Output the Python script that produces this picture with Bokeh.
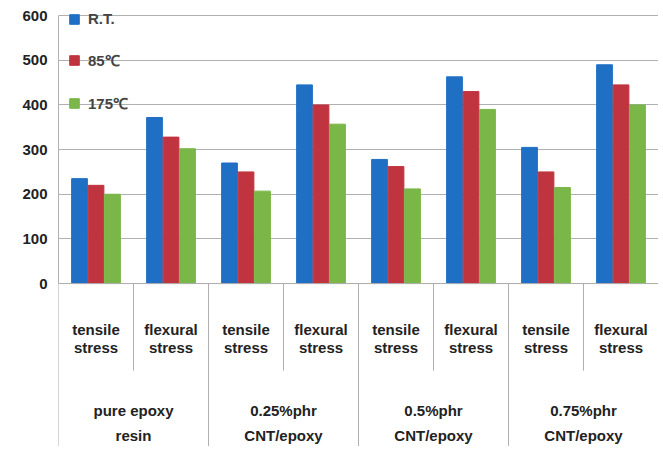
from bokeh.plotting import figure
from bokeh.models import ColumnDataSource, FixedTicker, Legend, LegendItem
from bokeh.core.properties import value
from bokeh.embed import file_html
from bokeh.resources import INLINE

stress = ["tensile\nstress", "flexural\nstress"] * 4
groups_top = ["pure epoxy", "0.25%phr", "0.5%phr", "0.75%phr"]
groups_bottom = ["resin", "CNT/epoxy", "CNT/epoxy", "CNT/epoxy"]
rt = [235, 372, 270, 445, 278, 463, 305, 490]
t85 = [220, 328, 250, 400, 262, 430, 250, 445]
t175 = [200, 302, 207, 357, 212, 390, 215, 400]
series = ["R.T.", "85\u2103", "175\u2103"]
colors = ["#1f6fc5", "#c0343f", "#7ab648"]
y_ticks = [0, 100, 200, 300, 400, 500, 600]

x = [i + 0.5 for i in range(len(stress))]
src = ColumnDataSource(dict(x=x, rt=rt, t85=t85, t175=t175))

p = figure(frame_width=600, frame_height=446, x_range=(0, 8), y_range=(-365, 634),
           output_backend="svg", toolbar_location=None, min_border_left=58,
           min_border_right=0, min_border_top=0, min_border_bottom=0,
           outline_line_color=None)
p.xaxis.visible = False
p.xgrid.grid_line_color = None
p.ygrid.ticker = FixedTicker(ticks=y_ticks)
p.ygrid.grid_line_color = "#b0b0b0"
p.yaxis.ticker = FixedTicker(ticks=y_ticks)
p.yaxis.bounds = (0, 600)
p.yaxis.axis_line_color = "#b0b0b0"
p.yaxis.major_tick_line_color = None
p.yaxis.minor_tick_line_color = None
p.yaxis.major_label_text_font = "Liberation Sans"
p.yaxis.major_label_text_font_style = "bold"
p.yaxis.major_label_text_font_size = "15px"
p.yaxis.major_label_text_color = "#222222"

w = 0.21
renderers = []
for col, off, c in zip(["rt", "t85", "t175"], [-0.22, 0, 0.22], colors):
    xs = [v + off for v in x]
    r = p.vbar(x=xs, top=src.data[col], width=w, bottom=0, color=c)
    renderers.append(r)

# table lines
p.segment(x0=[0], y0=[0], x1=[8], y1=[0], line_color="#b0b0b0", line_width=1)
for i in range(9):
    bottom = -365 if i % 2 == 0 else -195
    p.segment(x0=[i], y0=[0], x1=[i], y1=[bottom], line_color="#b0b0b0", line_width=1)

font = value("Liberation Sans")
common = dict(text_font=font, text_font_style="bold", text_font_size="15px",
              text_align="center", text_baseline="middle", text_color="#222222")
p.text(x=x, y=[-123] * 8, text=stress, text_line_height=1.1, **common)
gx = [1, 3, 5, 7]
p.text(x=gx, y=[-284] * 4, text=groups_top, **common)
p.text(x=gx, y=[-340] * 4, text=groups_bottom, **common)

legend = Legend(items=[LegendItem(label=s, renderers=[r]) for s, r in zip(series, renderers)],
                location="top_left", margin=10, padding=8, border_line_color=None,
                background_fill_alpha=0, label_text_font="Liberation Sans",
                label_text_font_style="bold", label_text_font_size="15px",
                spacing=23, glyph_width=12, glyph_height=12, label_standoff=8)
p.add_layout(legend)

open("out.html", "w").write(file_html(p, INLINE))
